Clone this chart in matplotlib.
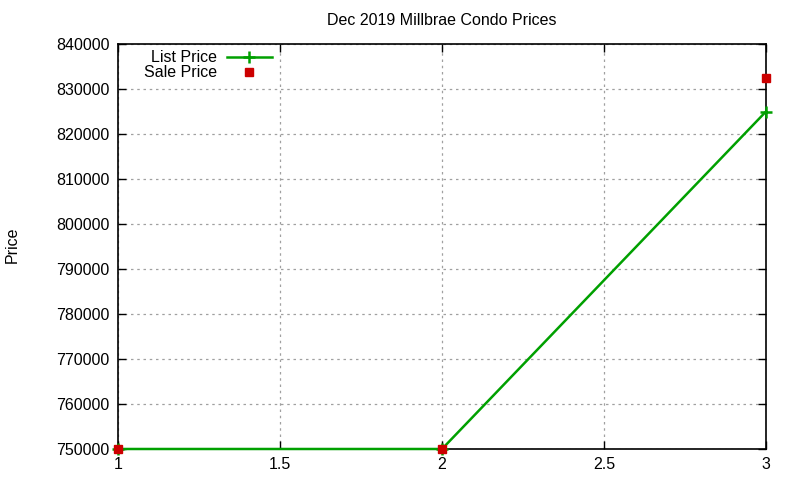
import matplotlib
matplotlib.use("Agg")
import matplotlib.pyplot as plt

plt.rcParams['font.family'] = ['Liberation Sans', 'DejaVu Sans']

# data
x_vals = [1, 2, 3]
list_price = [750000, 750000, 825000]
sale_price = [750000, 750000, 832500]
x_ticks = [1, 1.5, 2, 2.5, 3]
y_ticks = list(range(750000, 840001, 10000))

fig = plt.figure(figsize=(8, 4.8), dpi=100)
ax = fig.add_axes([0.1475, 0.0646, 0.81, 0.8437])

ax.plot(x_vals, list_price, color='#00a000', linewidth=1.8, marker='+',
        markersize=9, markeredgewidth=1.8, label='List Price', clip_on=False, zorder=3)
ax.plot(x_vals, sale_price, linestyle='none', marker='s', color='#cc0000',
        markersize=6, label='Sale Price', clip_on=False, zorder=4)

ax.set_xlim(1, 3)
ax.set_ylim(750000, 840000)
ax.set_xticks(x_ticks)
ax.set_xticklabels(['1', '1.5', '2', '2.5', '3'])
ax.set_yticks(y_ticks)
ax.set_yticklabels([str(v) for v in y_ticks])
ax.tick_params(direction='in', length=6, width=1, labelsize=11.5,
               top=True, right=True, pad=6)
ax.grid(True, color='#a0a0a0', linestyle=(0, (2, 3)), linewidth=0.9)
for s in ax.spines.values():
    s.set_linewidth(1.2)

ax.set_title('Dec 2019 Millbrae Condo Prices', fontsize=11.5, pad=14)
fig.text(0.015, 0.49, 'Price', rotation=90, fontsize=11.5, va='center', ha='center')

leg = ax.legend(loc='upper left', bbox_to_anchor=(0.023, 1.012), frameon=False,
                markerfirst=False, fontsize=11.5, handlelength=2.8,
                handletextpad=0.6, labelspacing=0.0, borderaxespad=0.3)
for t in leg.get_texts():
    t.set_ha('right')
leg._legend_box.align = 'right'

fig.savefig('out.png', dpi=100)
